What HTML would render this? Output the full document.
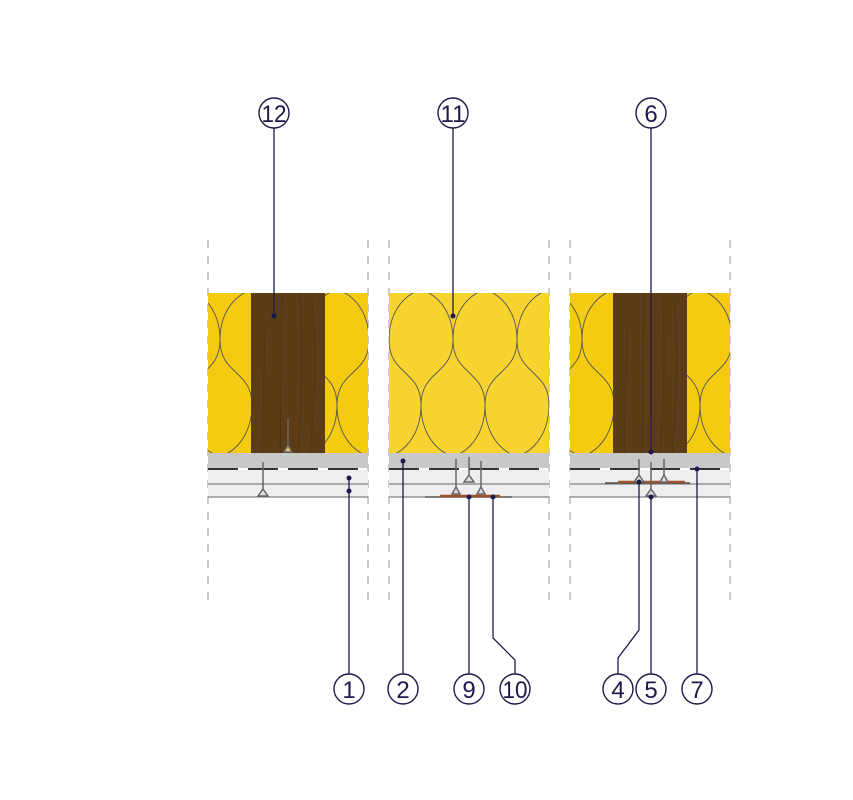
<!DOCTYPE html>
<html><head><meta charset="utf-8"><style>
html,body{margin:0;padding:0;background:#fff}
svg{display:block}
text{font-family:"Liberation Sans",sans-serif;font-size:24px;fill:#1c1a4a}
</style></head><body>
<svg id="s" width="853" height="800" viewBox="0 0 853 800" xmlns="http://www.w3.org/2000/svg">
<defs>
<clipPath id="c1a"><rect x="208" y="293" width="43" height="160"/></clipPath>
<clipPath id="c1b"><rect x="325" y="293" width="43" height="160"/></clipPath>
<clipPath id="c2"><rect x="389" y="293" width="160" height="160"/></clipPath>
<clipPath id="c3a"><rect x="570" y="293" width="43" height="160"/></clipPath>
<clipPath id="c3b"><rect x="687" y="293" width="43" height="160"/></clipPath>
</defs>
<!-- dashed guides -->
<g stroke="#999" stroke-width="1" stroke-dasharray="8,8">
<line x1="208" y1="240" x2="208" y2="600"/><line x1="368" y1="240" x2="368" y2="600"/>
<line x1="389" y1="240" x2="389" y2="600"/><line x1="549" y1="240" x2="549" y2="600"/>
<line x1="570" y1="240" x2="570" y2="600"/><line x1="730" y1="240" x2="730" y2="600"/>
</g>
<!-- insulation -->
<rect x="208" y="293" width="160" height="160" fill="#f4cb10"/>
<rect x="389" y="293" width="160" height="160" fill="#f7d330"/>
<rect x="570" y="293" width="160" height="160" fill="#f4cb10"/>
<g id="waves" fill="none" stroke="#555" stroke-width="0.9"></g>
<!-- studs -->
<rect x="251" y="293" width="74" height="160" fill="#5c3b17"/>
<rect x="613" y="293" width="74" height="160" fill="#5c3b17"/>
<g stroke="#4a2f10" stroke-width="0.8" fill="none">
<path d="M282 293 L280 453 M300 293 Q305 360 298 453 M312 300 Q318 370 310 453 M265 330 L262 453"/>
<path d="M644 293 L642 453 M662 293 Q667 360 660 453 M674 300 Q680 370 672 453 M627 330 L624 453"/>
</g>
<!-- boards -->
<g>
<rect x="208" y="453" width="160" height="15" fill="#c8c8c8"/>
<rect x="389" y="453" width="160" height="15" fill="#c8c8c8"/>
<rect x="570" y="453" width="160" height="15" fill="#c8c8c8"/>
<rect x="208" y="470" width="160" height="27" fill="#eeeeee"/>
<rect x="389" y="470" width="160" height="27" fill="#eeeeee"/>
<rect x="570" y="470" width="160" height="27" fill="#eeeeee"/>
</g>
<g stroke="#333" stroke-width="2" stroke-dasharray="30,10">
<line x1="208" y1="469" x2="368" y2="469"/><line x1="389" y1="469" x2="549" y2="469"/><line x1="570" y1="469" x2="730" y2="469"/>
</g>
<g stroke="#666" stroke-width="1">
<line x1="208" y1="484" x2="368" y2="484"/><line x1="389" y1="484" x2="549" y2="484"/><line x1="570" y1="484" x2="730" y2="484"/>
<line x1="208" y1="497" x2="368" y2="497"/><line x1="389" y1="497" x2="549" y2="497"/><line x1="570" y1="497" x2="730" y2="497"/>
</g>
<path d="M425 497 L512 497" stroke="#555" stroke-width="1.5"/>
<path d="M440 496 L500 496" stroke="#a0522d" stroke-width="2.5"/>
<path d="M605 483 L690 483" stroke="#555" stroke-width="1.5"/>
<path d="M618 482 L685 482" stroke="#a0522d" stroke-width="2.5"/>
<!-- screws -->
<g stroke="#666" stroke-width="1.5" fill="#ddd">
<line x1="288" y1="418" x2="288" y2="450"/><path d="M284 452 L292 452 L288 445Z" fill="#e6c060"/>
<line x1="263" y1="462" x2="263" y2="494"/><path d="M258 496 L268 496 L263 489Z"/>
<line x1="456" y1="459" x2="456" y2="492"/><path d="M452 494 L460 494 L456 487Z"/>
<line x1="469" y1="457" x2="469" y2="480"/><path d="M464 482 L474 482 L469 475Z"/>
<line x1="481" y1="461" x2="481" y2="492"/><path d="M477 494 L485 494 L481 487Z"/>
<line x1="651" y1="418" x2="651" y2="450"/>
<line x1="639" y1="459" x2="639" y2="480"/><path d="M634 482 L644 482 L639 475Z"/>
<line x1="651" y1="462" x2="651" y2="494"/><path d="M646 496 L656 496 L651 489Z"/>
<line x1="664" y1="459" x2="664" y2="480"/><path d="M660 482 L668 482 L664 475Z"/>
</g>
<!-- leaders -->
<g stroke="#1c1a4a" stroke-width="1.3" fill="none">
<line x1="274" y1="128" x2="274" y2="316"/>
<line x1="453" y1="128" x2="453" y2="316"/>
<line x1="651" y1="128" x2="651" y2="452"/>
<line x1="349" y1="478" x2="349" y2="674"/>
<line x1="403" y1="461" x2="403" y2="674"/>
<line x1="469" y1="497" x2="469" y2="674"/>
<path d="M493 497 L493 638 L515 660 L515 674"/>
<path d="M639 480 L639 630 L618 658 L618 674"/>
<line x1="651" y1="497" x2="651" y2="674"/>
<line x1="697" y1="469" x2="697" y2="674"/>
</g>
<g fill="#1c1a4a">
<circle cx="274" cy="316" r="2.5"/><circle cx="453" cy="316" r="2.5"/><circle cx="651" cy="452" r="2.5"/>
<circle cx="349" cy="478" r="2.5"/><circle cx="349" cy="491" r="2.5"/><circle cx="403" cy="461" r="2.5"/>
<circle cx="469" cy="497" r="2.5"/><circle cx="493" cy="497" r="2.5"/><circle cx="639" cy="482" r="2.5"/>
<circle cx="651" cy="497" r="2.5"/><circle cx="697" cy="469" r="2.5"/>
</g>
<g fill="#fff" stroke="#1c1a4a" stroke-width="1.4">
<circle cx="274" cy="113" r="15"/><circle cx="453" cy="113" r="15"/><circle cx="651" cy="113" r="15"/>
<circle cx="349" cy="689" r="15"/><circle cx="403" cy="689" r="15"/><circle cx="469" cy="689" r="15"/>
<circle cx="515" cy="689" r="15"/><circle cx="618" cy="689" r="15"/><circle cx="651" cy="689" r="15"/><circle cx="697" cy="689" r="15"/>
</g>
<g text-anchor="middle">
<text x="274" y="122" textLength="25" lengthAdjust="spacingAndGlyphs">12</text><text x="453" y="122" textLength="25" lengthAdjust="spacingAndGlyphs">11</text><text x="651" y="122">6</text>
<text x="349" y="698">1</text><text x="403" y="698">2</text><text x="469" y="698">9</text>
<text x="515" y="698" textLength="25" lengthAdjust="spacingAndGlyphs">10</text><text x="618" y="698">4</text><text x="651" y="698">5</text><text x="697" y="698">7</text>
</g>
</svg>
<script>
(function(){
var g=document.getElementById('waves');var ns='http://www.w3.org/2000/svg';
var panels=[[188,'c1a'],[273,'c1b'],[421,'c2'],[550,'c3a'],[636,'c3b']];
panels.forEach(function(p){
 var gg=document.createElementNS(ns,'g');gg.setAttribute('clip-path','url(#'+p[1]+')');
 var d='';
 for(var k=-2;k<4;k++){
  var x=p[0]+k*64, y=293;
  var px=x+32, py=y+47, qx=x, qy=y+112;
  d+='M'+px+','+py+' C'+px+','+(py+35)+' '+qx+','+(qy-35)+' '+qx+','+qy+' ';
  d+='M'+px+','+py+' C'+px+','+(py+35)+' '+(qx+64)+','+(qy-35)+' '+(qx+64)+','+qy+' ';
  d+='M'+px+','+py+' C'+px+','+(py-25)+' '+(px-12)+','+(y+5)+' '+(px-28)+','+(y-2)+' ';
  d+='M'+px+','+py+' C'+px+','+(py-25)+' '+(px+12)+','+(y+5)+' '+(px+28)+','+(y-2)+' ';
  d+='M'+qx+','+qy+' C'+qx+','+(qy+25)+' '+(qx+12)+','+(y+155)+' '+(qx+28)+','+(y+162)+' ';
  d+='M'+qx+','+qy+' C'+qx+','+(qy+25)+' '+(qx-12)+','+(y+155)+' '+(qx-28)+','+(y+162)+' ';
 }
 var path=document.createElementNS(ns,'path');path.setAttribute('d',d);
 gg.appendChild(path);g.appendChild(gg);
});
})();
</script>
</body></html>
